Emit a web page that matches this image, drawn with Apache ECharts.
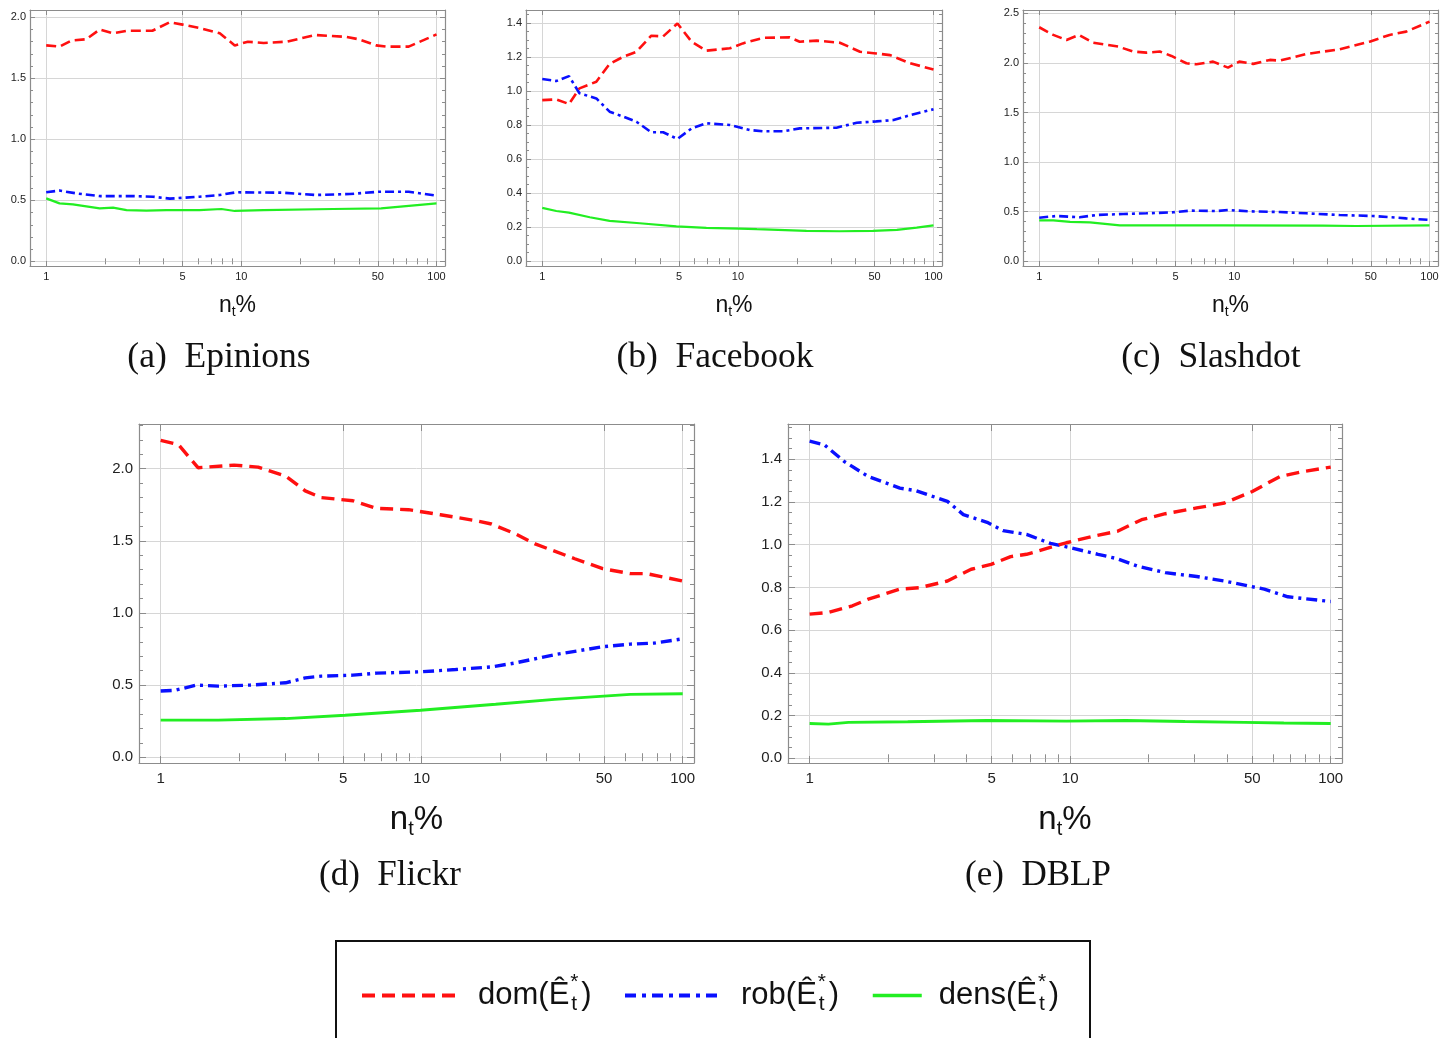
<!DOCTYPE html>
<html><head><meta charset="utf-8">
<script src="https://cdn.jsdelivr.net/npm/echarts@6/dist/echarts.min.js"></script>
<style>html,body{margin:0;padding:0;background:#fff}#c{width:1452px;height:1038px}</style>
</head><body><div id="c"></div><script>
// ---------------- data (x = n_t %, y = measure) ----------------
const xMajorTicks = [1, 5, 10, 50, 100];
const xMinorTicks = [2, 3, 4, 6, 7, 8, 9, 20, 30, 40, 60, 70, 80, 90];
const seriesNames = ['dom', 'rob', 'dens'];

const epinionsDom = [[1,1.77],[1.17,1.76],[1.35,1.81],[1.6,1.82],[1.88,1.9],[2.2,1.87],[2.6,1.89],[3.5,1.89],[4.3,1.96],[5.0,1.94],[6.2,1.91],[7.75,1.87],[9.25,1.77],[10.8,1.80],[13,1.79],[17,1.80],[24,1.855],[34.5,1.84],[40,1.82],[49,1.77],[55,1.76],[72,1.76],[100,1.86]];
const epinionsRob = [[1,0.566],[1.17,0.58],[1.43,0.557],[1.88,0.535],[2.79,0.535],[3.53,0.53],[4.3,0.514],[6.1,0.53],[7.75,0.544],[9.4,0.566],[16.3,0.563],[24,0.544],[36,0.552],[51,0.571],[72,0.571],[100,0.538]];
const epinionsDens = [[1,0.516],[1.17,0.475],[1.37,0.467],[1.88,0.434],[2.2,0.44],[2.58,0.42],[3.26,0.415],[4.13,0.42],[6.1,0.42],[7.9,0.429],[9.25,0.413],[13,0.42],[29.5,0.429],[52,0.434],[100,0.475]];

const facebookDom = [[1,0.946],[1.18,0.95],[1.37,0.923],[1.55,1.015],[1.89,1.054],[2.21,1.158],[2.59,1.2],[3.03,1.23],[3.61,1.324],[4.15,1.32],[4.91,1.396],[5.8,1.289],[6.9,1.236],[9.1,1.25],[10.6,1.279],[13.5,1.312],[18.4,1.314],[20.7,1.289],[25.3,1.295],[33.2,1.283],[42.1,1.23],[51,1.22],[60,1.21],[76,1.162],[100,1.126]];
const facebookRob = [[1,1.07],[1.18,1.058],[1.37,1.087],[1.55,0.986],[1.89,0.956],[2.21,0.878],[2.59,0.849],[3.03,0.819],[3.61,0.757],[4.15,0.757],[4.91,0.718],[5.8,0.78],[6.9,0.81],[9.1,0.8],[11.5,0.77],[13.5,0.763],[17,0.763],[20.7,0.78],[31.9,0.784],[40.5,0.813],[51,0.821],[62.5,0.829],[76,0.858],[100,0.892]];
const facebookDens = [[1,0.313],[1.18,0.295],[1.37,0.285],[1.75,0.258],[2.21,0.237],[3.15,0.223],[4.85,0.205],[6.9,0.196],[10.2,0.192],[12.5,0.188],[22.4,0.178],[33,0.176],[49,0.178],[65,0.184],[82,0.197],[100,0.211]];

const slashdotDom = [[1,2.359],[1.18,2.282],[1.38,2.231],[1.6,2.282],[1.89,2.204],[2.54,2.164],[3.03,2.114],[3.54,2.103],[4.15,2.114],[4.76,2.07],[5.68,1.996],[6.39,1.986],[7.78,2.013],[9.28,1.952],[10.6,2.013],[12.5,1.99],[15.2,2.03],[17.1,2.023],[23.4,2.09],[34.6,2.137],[49.3,2.214],[62.4,2.282],[75.9,2.315],[100,2.416]];
const slashdotRob = [[1,0.44],[1.23,0.457],[1.61,0.444],[1.97,0.467],[2.69,0.477],[3.54,0.484],[4.85,0.494],[5.91,0.511],[8.1,0.507],[9.28,0.517],[12,0.504],[17.1,0.497],[23.4,0.484],[34.6,0.467],[51.3,0.457],[75.9,0.433],[100,0.417]];
const slashdotDens = [[1,0.413],[1.18,0.413],[1.44,0.397],[1.82,0.393],[2.59,0.363],[3.99,0.363],[8.75,0.363],[28.4,0.36],[42.1,0.356],[100,0.363]];

const flickrDom = [[1,2.197],[1.17,2.167],[1.39,2.007],[1.91,2.025],[2.36,2.011],[3.01,1.95],[3.58,1.846],[4.12,1.8],[5.45,1.778],[6.72,1.725],[8.9,1.716],[11.8,1.681],[16.1,1.64],[18.5,1.617],[22.9,1.548],[27.2,1.479],[38.6,1.376],[49.4,1.307],[63,1.273],[72.5,1.273],[100,1.222]];
const flickrRob = [[1,0.459],[1.13,0.463],[1.37,0.5],[1.66,0.493],[2.2,0.5],[3.01,0.516],[3.58,0.55],[4.12,0.562],[5.45,0.569],[6.72,0.583],[9.9,0.592],[13.5,0.608],[18.5,0.626],[22.9,0.654],[32.3,0.711],[49.4,0.766],[63,0.784],[77.7,0.791],[100,0.821]];
const flickrDens = [[1,0.257],[1.66,0.257],[3.01,0.268],[5.09,0.291],[9.9,0.326],[19.2,0.367],[32.3,0.401],[63,0.436],[100,0.44]];

const dblpDom = [[1,0.675],[1.18,0.683],[1.46,0.714],[1.68,0.745],[2.22,0.792],[2.65,0.799],[3.38,0.83],[4.17,0.885],[4.97,0.908],[5.91,0.944],[6.8,0.955],[9.66,1.009],[12.3,1.04],[15.2,1.063],[18.8,1.117],[23.2,1.145],[30.6,1.172],[39.1,1.195],[50,1.249],[63.8,1.319],[78.8,1.343],[100,1.363]];
const dblpRob = [[1,1.485],[1.14,1.467],[1.36,1.389],[1.68,1.319],[2.22,1.265],[2.55,1.253],[3.38,1.203],[3.89,1.141],[4.8,1.105],[5.52,1.066],[6.8,1.048],[8.4,1.006],[10,0.986],[12.8,0.955],[15.2,0.934],[18.1,0.9],[23.2,0.869],[30.6,0.851],[39.1,0.83],[48.3,0.807],[55.6,0.792],[68.5,0.756],[100,0.734]];
const dblpDens = [[1,0.163],[1.18,0.16],[1.41,0.168],[2.38,0.171],[4.8,0.177],[9.66,0.174],[16.3,0.177],[27.6,0.172],[46.6,0.168],[66.1,0.165],[100,0.163]];

const yTicksA = [0, 0.5, 1.0, 1.5, 2.0];
const yTicksB = [0, 0.2, 0.4, 0.6, 0.8, 1.0, 1.2, 1.4];
const yTicksC = [0, 0.5, 1.0, 1.5, 2.0, 2.5];
const yTicksD = [0, 0.5, 1.0, 1.5, 2.0];
const yTicksE = [0, 0.2, 0.4, 0.6, 0.8, 1.0, 1.2, 1.4];
const captions = ['(a)  Epinions', '(b)  Facebook', '(c)  Slashdot', '(d)  Flickr', '(e)  DBLP'];

// ---------------- layout / style ----------------
const SANS = 'Liberation Sans, Arial, sans-serif';
const SERIF = 'Liberation Serif, Times New Roman, serif';
const FRAME = '#8c8c8c';
const GRIDC = '#d6d6d6';
const RED = '#ff1010', BLUE = '#0a10ff', GREEN = '#22ee22';

const panels = [
  {box:[30,10,415,256], y:[-0.038,2.06], yt:yTicksA, minor:0.1, data:[epinionsDom,epinionsRob,epinionsDens], big:false, cap:[219,358]},
  {box:[526,10,416,256], y:[-0.028,1.475], yt:yTicksB, minor:0.05, data:[facebookDom,facebookRob,facebookDens], big:false, cap:[715,358]},
  {box:[1023,10,415,256], y:[-0.047,2.533], yt:yTicksC, minor:0.1, data:[slashdotDom,slashdotRob,slashdotDens], big:false, cap:[1211,358]},
  {box:[139,424,555,339], y:[-0.04,2.31], yt:yTicksD, minor:0.1, data:[flickrDom,flickrRob,flickrDens], big:true, cap:[390,876]},
  {box:[788,424,554,339], y:[-0.022,1.565], yt:yTicksE, minor:0.05, data:[dblpDom,dblpRob,dblpDens], big:true, cap:[1038,876]}
];

function minorTicks(lo, hi, step, majors) {
  const out = [];
  for (let k = Math.ceil(lo / step - 1e-9); k * step <= hi + 1e-9; k++) {
    const v = +(k * step).toFixed(4);
    if (!majors.some(m => Math.abs(m - v) < 1e-6)) out.push(v);
  }
  return out;
}

const option = {
  animation: false,
  backgroundColor: '#fff',
  grid: [], xAxis: [], yAxis: [], series: [], legend: [], graphic: []
};

panels.forEach((p, gi) => {
  const fs = p.big ? 15 : 11;
  const nameFs = p.big ? 33 : 23;
  option.grid.push({left:p.box[0], top:p.box[1], width:p.box[2], height:p.box[3], show:false});
  const lineBase = {show:true, onZero:false, lineStyle:{color:FRAME, width:1.2}};
  const tickMaj = p.big ? 7 : 5, tickMin = p.big ? 4 : 3;
  const mkX = (pos, ticks, len, main) => ({
    type:'log', logBase:10, gridIndex:gi, min:0.826, max:110.5, position:pos,
    axisLine: main ? lineBase : {show:false},
    axisTick:{show:true, inside:true, length:len, customValues:ticks, lineStyle:{color:FRAME, width:1}},
    axisLabel:(main && pos==='bottom') ? {show:true, customValues:xMajorTicks, margin:p.big?8:5, fontSize:fs, fontFamily:SANS, color:'#222', formatter:v=>String(Math.round(v))} : {show:false},
    splitLine:(main && pos==='bottom') ? {show:true, lineStyle:{color:GRIDC, width:1}} : {show:false},
    name:(main && pos==='bottom') ? '{n|n}{t|t}{n|%}' : '',
    nameLocation:'middle', nameGap: p.big ? 38 : 26,
    nameTextStyle:{rich:{n:{fontSize:nameFs, fontFamily:SANS, color:'#111'}, t:{fontSize:Math.round(nameFs*0.62), fontFamily:SANS, color:'#111', padding:[Math.round(nameFs*0.55),0,0,0]}}}
  });
  const xi = option.xAxis.length;
  option.xAxis.push(mkX('bottom', xMajorTicks, tickMaj, true));
  option.xAxis.push(mkX('bottom', xMinorTicks, tickMin, false));
  option.xAxis.push(mkX('top', xMajorTicks, tickMaj, true));
  option.xAxis.push(mkX('top', xMinorTicks, tickMin, false));

  const yMinor = minorTicks(0, p.y[1], p.minor, p.yt);
  const mkY = (pos, ticks, len, main) => ({
    type:'value', gridIndex:gi, min:p.y[0], max:p.y[1], position:pos,
    axisLine: main ? lineBase : {show:false},
    axisTick:{show:true, inside:true, length:len, customValues:ticks, lineStyle:{color:FRAME, width:1}},
    axisLabel:(main && pos==='left') ? {show:true, customValues:p.yt, margin:p.big?6:4, fontSize:fs, fontFamily:SANS, color:'#222', formatter:v=>v.toFixed(1)} : {show:false},
    splitLine:(main && pos==='left') ? {show:true, lineStyle:{color:GRIDC, width:1}} : {show:false}
  });
  const yi = option.yAxis.length;
  option.yAxis.push(mkY('left', p.yt, tickMaj, true));
  option.yAxis.push(mkY('left', yMinor, tickMin, false));
  option.yAxis.push(mkY('right', p.yt, tickMaj, true));
  option.yAxis.push(mkY('right', yMinor, tickMin, false));

  const w = p.big ? 3.4 : 2.6;
  const styles = [
    {color:RED, width:w, type: p.big ? [13,7] : [10,5]},
    {color:BLUE, width:w, type: p.big ? [11,5,3,5] : [9,4,3,4]},
    {color:GREEN, width:w*0.85, type:'solid'}
  ];
  seriesNames.forEach((nm, k) => {
    option.series.push({
      type:'line', name:nm, xAxisIndex:xi, yAxisIndex:yi, data:p.data[k],
      symbol:'none', smooth:false, lineStyle:styles[k], color:styles[k].color, z: 3 - k
    });
  });

  option.graphic.push({type:'text', x:0, y:0, style:{text:captions[gi], x:p.cap[0], y:p.cap[1], align:'center', verticalAlign:'middle', fontSize:p.big?35:35.5, fontFamily:SERIF, fill:'#111'}});
});

// legend box
option.graphic.push({type:'rect', shape:{x:336, y:941, width:754, height:140}, style:{fill:'none', stroke:'#111', lineWidth:2}, z:-1});

const legendRich = {
  a:{fontSize:31, fontFamily:SANS, color:'#111'},
  s:{fontSize:21, fontFamily:SANS, color:'#111', width:0, padding:[0,0,26,1]},
  t:{fontSize:21, fontFamily:SANS, color:'#111', padding:[18,4,0,1]}
};
const legendDefs = [
  {name:'dom', left:360, w:93, gap:18, ls:{color:RED, width:4, type:[13,7]}},
  {name:'rob', left:623, w:92, gap:19, ls:{color:BLUE, width:4, type:[11,6,4,6]}},
  {name:'dens', left:871, w:49, gap:12, ls:{color:GREEN, width:3.5, type:'solid'}}
];
legendDefs.forEach(d => {
  option.legend.push({
    data:[d.name], left:d.left, top:972, orient:'horizontal', padding:0,
    itemWidth:d.w, itemHeight:14, selectedMode:false,
    lineStyle:d.ls, itemStyle:{opacity:0},
    formatter: nm => `{a|${nm}(Ê}{s|*}{t|t}{a|)}`,
    textStyle:{rich:legendRich, padding:[0,0,0,d.gap]}
  });
});

const chart = echarts.init(document.getElementById('c'), null, {renderer:'canvas'});
chart.setOption(option);
</script></body></html>
